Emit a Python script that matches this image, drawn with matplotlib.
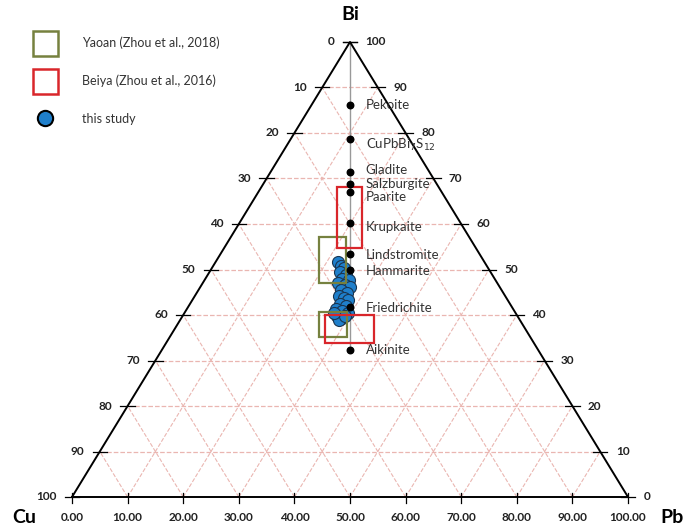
import numpy as np
import matplotlib.pyplot as plt
from matplotlib.lines import Line2D
from matplotlib.patches import Rectangle

plt.rcParams['font.family'] = ['Lato', 'DejaVu Sans']

# reference minerals (Bi at.% of metals, Cu = Pb)
minerals = ['Pekoite', 'CuPbBi$_7$S$_{12}$', 'Gladite', 'Salzburgite', 'Paarite',
            'Krupkaite', 'Lindstromite', 'Hammarite', 'Friedrichite', 'Aikinite']
mineral_bi = [86.2, 78.7, 71.4, 68.8, 67.0, 60.2, 53.4, 49.9, 41.8, 32.3]
label_dy = [0, -1.4, 0.5, 0, -1.0, -0.8, -0.3, -0.3, -0.3, 0]

# this study: Bi and Pb (at.%), Cu = rest
study_bi = [51.6, 50.8, 50.3, 49.5, 48.8, 47.9, 47.7, 47.0, 46.6, 46.2, 45.5, 44.8, 44.2,
            43.7, 43.3, 42.4, 42.0, 41.3, 40.9, 40.4, 39.8, 39.3, 38.9, 39.8, 40.4]
study_pb = [22.0, 23.0, 23.7, 23.5, 24.9, 24.7, 26.0, 24.3, 25.8, 26.9, 25.7, 27.1, 25.9,
            27.0, 28.0, 27.0, 28.3, 26.8, 28.2, 29.4, 27.8, 29.0, 28.5, 29.2, 26.9]

# literature fields as (x0, x1, bi0, bi1) on the plot scale
yaoan_boxes = [(44.4, 49.3, 47.0, 57.1), (44.4, 49.5, 35.2, 40.7)]
beiya_boxes = [(47.7, 52.2, 54.7, 68.1), (45.5, 54.3, 33.8, 40.0)]

ticks = list(range(0, 101, 10))

OLIVE = '#76813f'
RED = '#d9262b'
BLUE = '#1f7fcb'
GRID = '#eab6b1'


def to_xy(pb, bi):
    pb = np.asarray(pb, dtype=float)
    bi = np.asarray(bi, dtype=float)
    return pb + bi / 2.0, bi


fig = plt.figure(figsize=(6.83, 5.31), dpi=100)
ax = fig.add_axes([0, 0, 1, 1])
ax.set_xlim(-72 / 5.56, (683 - 72) / 5.56)
ax.set_ylim(-(531 - 497) / 4.55, 100 + 42 / 4.55)
ax.axis('off')

# grid
for t in ticks[1:-1]:
    ax.plot([t / 2, 100 - t / 2], [t, t], ls='--', color=GRID, lw=0.9, zorder=1)
    ax.plot([t, t + (100 - t) / 2], [0, 100 - t], ls='--', color=GRID, lw=0.8, zorder=1)
    ax.plot([t, t / 2], [0, t], ls='--', color=GRID, lw=0.8, zorder=1)

# triangle
ax.plot([0, 100, 50, 0], [0, 0, 100, 0], color='black', lw=1.4, zorder=3)

# ticks and labels
tk = 1.3
for t in ticks:
    # bottom
    ax.plot([t, t], [-tk, tk * 0.6], color='black', lw=0.9, zorder=3)
    ax.text(t, -4.5, f'{t:.2f}', ha='center', va='center', fontsize=8.5,
            fontweight='bold', color='#222222')
    # left edge (labels 0 at top .. 100 at bottom)
    bi = 100 - t
    xl = bi / 2
    ax.plot([xl - tk, xl + tk], [bi, bi], color='black', lw=0.9, zorder=3)
    ax.text(xl - 2.8, bi, f'{t}', ha='right', va='center', fontsize=8.5,
            fontweight='bold', color='#222222')
    # right edge (labels 100 at top .. 0 at bottom)
    bi = t
    xr = 100 - bi / 2
    ax.plot([xr - tk, xr + tk], [bi, bi], color='black', lw=0.9, zorder=3)
    ax.text(xr + 2.8, bi, f'{t}', ha='left', va='center', fontsize=8.5,
            fontweight='bold', color='#222222')

ax.text(50, 106.0, 'Bi', ha='center', va='center', fontsize=14, fontweight='bold')
ax.text(-8.5, -4.5, 'Cu', ha='center', va='center', fontsize=14, fontweight='bold')
ax.text(108.0, -4.5, 'Pb', ha='center', va='center', fontsize=14, fontweight='bold')

# Cu = Pb join line
mx, my = to_xy((100 - np.array(mineral_bi)) / 2, mineral_bi)
ax.plot([50, 50], [100, min(mineral_bi)], color='#999999', lw=1.0, zorder=2)

# this study
sx, sy = to_xy(study_pb, study_bi)
ax.scatter(sx, sy, s=75, color=BLUE, edgecolor='#1a3550', lw=0.8, zorder=4)

# literature fields
for x0, x1, b0, b1 in yaoan_boxes:
    ax.add_patch(Rectangle((x0, b0), x1 - x0, b1 - b0, fill=False, ec=OLIVE, lw=1.6, zorder=5))
for x0, x1, b0, b1 in beiya_boxes:
    ax.add_patch(Rectangle((x0, b0), x1 - x0, b1 - b0, fill=False, ec=RED, lw=1.6, zorder=5))

# minerals
ax.scatter(mx, my, s=22, color='black', zorder=6)
for name, x, y, dy in zip(minerals, mx, my, label_dy):
    ax.text(x + 2.8, y + dy, name, ha='left', va='center', fontsize=9.5,
            color='#333333', zorder=7)

handles = [
    Line2D([], [], marker='s', ls='none', mfc='none', mec=OLIVE, mew=1.8, ms=18),
    Line2D([], [], marker='s', ls='none', mfc='none', mec=RED, mew=1.8, ms=18),
    Line2D([], [], marker='o', ls='none', mfc=BLUE, mec='black', mew=1.5, ms=11),
]
labels = ['Yaoan (Zhou et al., 2018)', 'Beiya (Zhou et al., 2016)', 'this study']
ax.legend(handles, labels, loc='upper left', bbox_to_anchor=(0.038, 0.943),
          frameon=False, fontsize=9, labelspacing=2.05, handletextpad=2.0,
          borderpad=0, labelcolor='#333333')

fig.savefig('out.png', dpi=100)
